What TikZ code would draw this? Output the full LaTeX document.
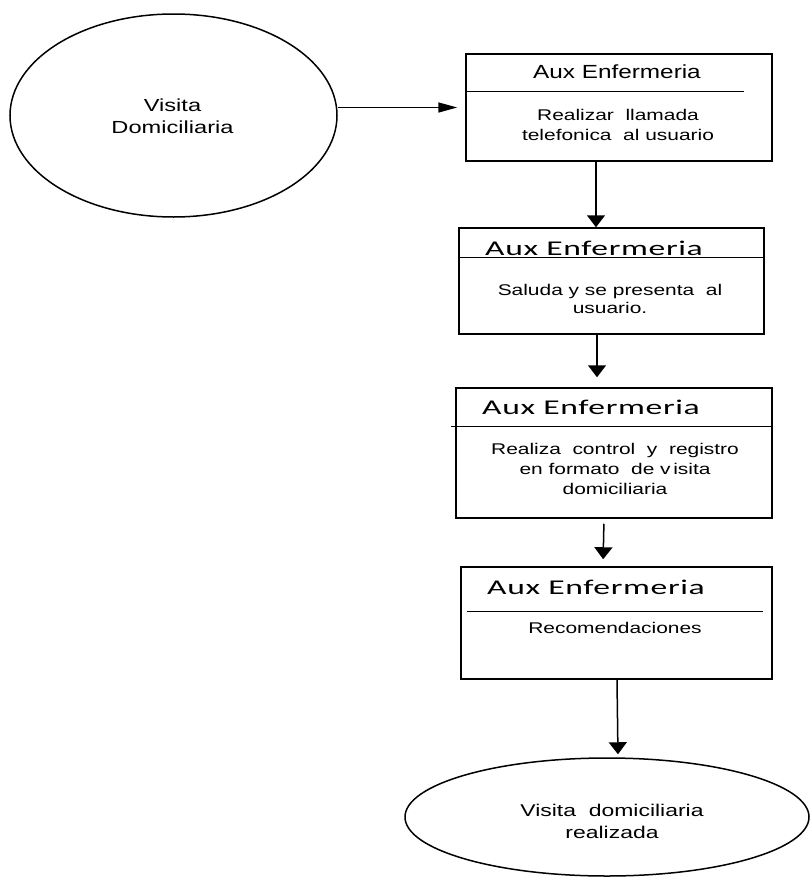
\documentclass[tikz,border=0pt]{standalone}
\usepackage{fontspec}
\setmainfont{Liberation Sans}
\newfontfamily\bodyf[FakeStretch=1.35]{Liberation Sans}
\newfontfamily\headaf[FakeStretch=1.28]{Liberation Sans}
\newfontfamily\headf[FakeStretch=1.6,LetterSpace=3]{Carlito}
\usetikzlibrary{shapes.geometric,arrows.meta}
\begin{document}
\begin{tikzpicture}[x=1pt,y=-1pt,line width=1.5pt,
  box/.style={draw,rectangle,inner sep=0pt},
  oval/.style={draw,ellipse,inner sep=0pt},
  bodytxt/.style={font={\bodyf\fontsize{15.5}{20}\selectfont},align=center,inner sep=0pt},
  ovaltxt/.style={font={\bodyf\fontsize{17.5}{22}\selectfont},align=center,inner sep=0pt},
  headA/.style={font={\headaf\fontsize{19}{20}\selectfont},inner sep=0pt},
  headB/.style={font={\headf\fontsize{21}{22}\selectfont},inner sep=0pt},
  harr/.style={-{Triangle[length=19pt,width=10pt]}},
  varr/.style={-{Triangle[length=12pt,width=18pt]}}
]
\useasboundingbox (0,0) rectangle (810,878);
% shapes
\node[oval,minimum width=327pt,minimum height=203pt] (e1) at (173.5,115.5) {};
\node[box,minimum width=306pt,minimum height=107pt] (b1) at (619,107.5) {};
\node[box,minimum width=305pt,minimum height=106pt] (b2) at (611.5,281) {};
\node[box,minimum width=316pt,minimum height=130pt] (b3) at (614,453) {};
\node[box,minimum width=311pt,minimum height=112pt] (b4) at (616.5,623) {};
\node[oval,minimum width=404pt,minimum height=118pt] (e2) at (607,817) {};
% header rules
\draw ([yshift=-38pt]b1.north west) -- ([xshift=-29pt,yshift=-38pt]b1.north east);
\draw ([yshift=-30pt]b2.north west) -- ([yshift=-30pt]b2.north east);
\draw ([xshift=-4pt,yshift=-39pt]b3.north west) -- ([yshift=-39pt]b3.north east);
\draw ([xshift=7pt,yshift=-45pt]b4.north west) -- ([xshift=-10pt,yshift=-45pt]b4.north east);
% texts
\node[ovaltxt] (t0) at (172.5,116) {Visita\\Domiciliaria};
\node[headA] (h1) at (617,72) {Aux Enfermeria};
\node[bodytxt] (t1) at (618,125) {Realizar\ \ llamada\\telefonica\ \ al usuario};
\node[headB] (h2) at (594,248) {Aux Enfermeria};
\node[bodytxt,font={\bodyf\fontsize{15.5}{18}\selectfont}] (t2) at (610,299) {Saluda y se presenta\ \ al\\usuario.};
\node[headB] (h3) at (591,407) {Aux Enfermeria};
\node[bodytxt] (t3) at (615,469) {Realiza\ \ control\ \ y\ \ registro\\en\ formato\ \ de v\,isita\\domiciliaria};
\node[headB] (h4) at (596,587) {Aux Enfermeria};
\node[bodytxt] (t4) at (615,628) {Recomendaciones};
\node[ovaltxt,font={\bodyf\fontsize{17}{22}\selectfont}] (t5) at (612,821) {Visita\ \ domiciliaria\\realizada};
% connectors
\draw[harr,shorten >=8pt] (e1.east |- b1.west) -- (b1.west);
\draw[varr] ([xshift=-23pt]b1.south) -- ([xshift=-15.5pt]b2.north);
\draw[varr,shorten >=10pt] ([xshift=-14.5pt]b2.south) -- ([xshift=-17pt]b3.north);
\draw[varr,shorten <=5pt,shorten >=7pt] ([xshift=-10pt]b3.south) -- ([xshift=-13.5pt]b4.north);
\draw[varr,shorten >=3pt] ([xshift=0.5pt]b4.south) -- ([xshift=11pt]e2.north);
\end{tikzpicture}
\end{document}
